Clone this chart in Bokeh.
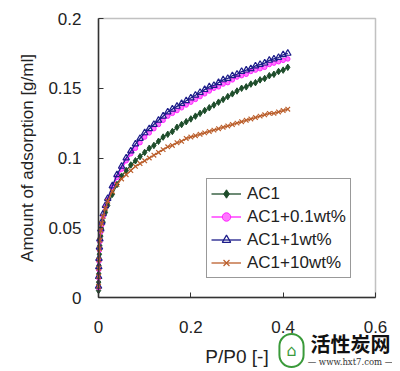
from bokeh.plotting import figure
from bokeh.models import FixedTicker, Legend, LegendItem, Label, Range1d, BoxAnnotation
from bokeh.embed import file_html
from bokeh.resources import INLINE

# ---- data ----
p_p0 = [0.0001, 0.0003, 0.0006, 0.001, 0.002, 0.003, 0.005, 0.007, 0.01, 0.015,
        0.02, 0.03, 0.04, 0.05, 0.06, 0.07, 0.08, 0.09, 0.10, 0.11,
        0.12, 0.13, 0.14, 0.15, 0.16, 0.17, 0.18, 0.19, 0.20, 0.21,
        0.22, 0.23, 0.24, 0.25, 0.26, 0.27, 0.28, 0.29, 0.30, 0.31,
        0.32, 0.33, 0.34, 0.35, 0.36, 0.37, 0.38, 0.39, 0.40, 0.41]

ac1 = [0.005, 0.011, 0.017, 0.023, 0.031, 0.037, 0.044, 0.049, 0.054, 0.061,
       0.066, 0.074, 0.081, 0.087, 0.091, 0.095, 0.098, 0.101, 0.104, 0.107,
       0.109, 0.112, 0.115, 0.117, 0.119, 0.122, 0.124, 0.126, 0.128, 0.130,
       0.132, 0.134, 0.136, 0.138, 0.140, 0.142, 0.144, 0.146, 0.148, 0.150,
       0.151, 0.153, 0.154, 0.156, 0.157, 0.159, 0.160, 0.162, 0.163, 0.165]

ac1_01 = [0.007, 0.014, 0.020, 0.026, 0.034, 0.040, 0.047, 0.052, 0.058, 0.065,
          0.070, 0.079, 0.086, 0.092, 0.098, 0.103, 0.107, 0.111, 0.115, 0.118,
          0.121, 0.124, 0.127, 0.130, 0.132, 0.134, 0.136, 0.138, 0.140, 0.142,
          0.144, 0.146, 0.148, 0.150, 0.151, 0.153, 0.154, 0.156, 0.158, 0.159,
          0.160, 0.162, 0.163, 0.164, 0.165, 0.167, 0.168, 0.169, 0.170, 0.171]

ac1_1 = [0.008, 0.015, 0.022, 0.028, 0.036, 0.042, 0.049, 0.054, 0.060, 0.066,
         0.071, 0.080, 0.088, 0.094, 0.100, 0.105, 0.110, 0.114, 0.118, 0.121,
         0.124, 0.127, 0.130, 0.133, 0.135, 0.137, 0.139, 0.141, 0.143, 0.145,
         0.147, 0.149, 0.151, 0.152, 0.154, 0.156, 0.157, 0.159, 0.160, 0.162,
         0.163, 0.164, 0.166, 0.167, 0.168, 0.170, 0.171, 0.172, 0.174, 0.175]

ac1_10 = [0.008, 0.015, 0.021, 0.027, 0.035, 0.041, 0.048, 0.053, 0.058, 0.064,
          0.069, 0.076, 0.081, 0.085, 0.088, 0.091, 0.094, 0.096, 0.098, 0.100,
          0.102, 0.104, 0.106, 0.108, 0.109, 0.111, 0.112, 0.114, 0.115, 0.116,
          0.117, 0.118, 0.119, 0.120, 0.121, 0.122, 0.123, 0.124, 0.125, 0.126,
          0.127, 0.128, 0.129, 0.130, 0.131, 0.132, 0.132, 0.133, 0.134, 0.135]

series_names = ["AC1", "AC1+0.1wt%", "AC1+1wt%", "AC1+10wt%"]
x_ticks = [0, 0.2, 0.4, 0.6]
x_tick_labels = ["0", "0.2", "0.4", "0.6"]
y_ticks = [0, 0.05, 0.1, 0.15, 0.2]
y_tick_labels = ["0", "0.05", "0.1", "0.15", "0.2"]
watermark_cn = "活性炭网"
watermark_url = "— www.hxt7.com —"

FONT = "Liberation Sans"

# canvas layout (pixels): plot box from (98, 18) to (375, 297) inside a 392x368 canvas
W, H = 392, 368
BOX_L, BOX_R, BOX_T, BOX_B = 98, 375, 18, 297
X0, X1, Y0, Y1 = 0.0, 0.6, 0.0, 0.2
sx = (BOX_R - BOX_L) / (X1 - X0)
sy = (BOX_B - BOX_T) / (Y1 - Y0)

p = figure(width=W, height=H, output_backend="svg", toolbar_location=None,
           x_range=Range1d(X0 - BOX_L / sx, X1 + (W - BOX_R) / sx),
           y_range=Range1d(Y0 - (H - BOX_B) / sy, Y1 + BOX_T / sy),
           min_border=0)
p.xgrid.visible = False
p.ygrid.visible = False
p.outline_line_color = None
p.background_fill_color = "white"
p.border_fill_color = "white"

# plot box outline
p.add_layout(BoxAnnotation(left=X0, right=X1, bottom=Y0, top=Y1, fill_alpha=0,
                           line_color="#333333", line_width=1.5, level="underlay"))

for ax, ticks, labels, bnds in ((p.xaxis[0], x_ticks, x_tick_labels, (X0, X1)),
                                (p.yaxis[0], y_ticks, y_tick_labels, (Y0, Y1))):
    ax.fixed_location = 0
    ax.bounds = bnds
    ax.ticker = FixedTicker(ticks=ticks)
    ax.major_label_overrides = {t: l for t, l in zip(ticks, labels)}
    ax.minor_tick_line_color = None
    ax.major_tick_in = 5
    ax.major_tick_out = 0
    ax.major_tick_line_color = "#333333"
    ax.axis_line_color = "#333333"
    ax.axis_line_width = 1.5
    ax.major_label_text_font = FONT
    ax.major_label_text_font_size = "17px"
    ax.major_label_text_color = "#222222"
    ax.axis_label_text_font = FONT
    ax.axis_label_text_font_size = "17px"
    ax.axis_label_text_font_style = "normal"
    ax.axis_label_text_color = "#222222"

p.xaxis.axis_label = "P/P0 [-]"
p.xaxis.axis_label_text_font_size = "19px"
p.yaxis.axis_label = "Amount of adsorption [g/ml]"
p.yaxis.major_label_standoff = 17
p.xaxis.major_label_standoff = 23
p.yaxis.axis_label_standoff = 8
p.xaxis.axis_label_standoff = 10

C_AC1, C_01, C_1, C_10 = "#1e4d2b", "#ff22ff", "#1c1c8a", "#bb5f2c"

items = []
# AC1: dark green diamonds
l1 = p.line(p_p0, ac1, line_color=C_AC1, line_width=1.3)
s1 = p.scatter(p_p0, ac1, marker="diamond", size=6.5, fill_color=C_AC1, line_color=C_AC1)
items.append(LegendItem(label=series_names[0], renderers=[l1, s1]))
# AC1+0.1wt%: magenta circles
l2 = p.line(p_p0, ac1_01, line_color=C_01, line_width=1.3)
s2 = p.scatter(p_p0, ac1_01, marker="circle", size=4.5, fill_color="#ff77ff", line_color=C_01)
items.append(LegendItem(label=series_names[1], renderers=[l2, s2]))
# AC1+1wt%: navy open triangles
l3 = p.line(p_p0, ac1_1, line_color=C_1, line_width=1.3)
s3 = p.scatter(p_p0, ac1_1, marker="triangle", size=6.5, fill_color=None, line_color=C_1, line_width=1.2)
items.append(LegendItem(label=series_names[2], renderers=[l3, s3]))
# AC1+10wt%: brown crosses
l4 = p.line(p_p0, ac1_10, line_color=C_10, line_width=1.3)
s4 = p.scatter(p_p0, ac1_10, marker="x", size=6.5, line_color=C_10, line_width=1.2)
items.append(LegendItem(label=series_names[3], renderers=[l4, s4]))

legend = Legend(items=items, location=(206, H - 278), orientation="vertical")
legend.label_text_font = FONT
legend.label_text_font_size = "17px"
legend.label_text_color = "#222222"
legend.border_line_color = "#333333"
legend.border_line_width = 1
legend.background_fill_alpha = 1.0
legend.glyph_width = 30
legend.glyph_height = 21
legend.label_height = 21
legend.spacing = 2
legend.padding = 4
legend.margin = 0
legend.label_standoff = 6
p.add_layout(legend, "center")

# watermark (logo ring + text), canvas coordinates
p.add_layout(Label(x=291, y=350, x_units="canvas", y_units="canvas", text="⌂",
                   text_align="center", text_baseline="middle",
                   text_font="DejaVu Sans", text_font_size="16px", text_color="#3a9a3a",
                   border_line_color="#3a9a3a", border_line_width=2, border_radius=16,
                   padding=7, background_fill_color="white"))
p.add_layout(Label(x=310, y=343, x_units="canvas", y_units="canvas", text=watermark_cn,
                   text_baseline="middle",
                   text_font="Noto Sans CJK SC", text_font_size="20px", text_font_style="bold",
                   text_color="#111111"))
p.add_layout(Label(x=350, y=361, x_units="canvas", y_units="canvas", text=watermark_url,
                   text_align="center", text_baseline="middle",
                   text_font="DejaVu Serif", text_font_size="8.5px", text_color="#333333"))

open("out.html", "w").write(file_html(p, INLINE))
